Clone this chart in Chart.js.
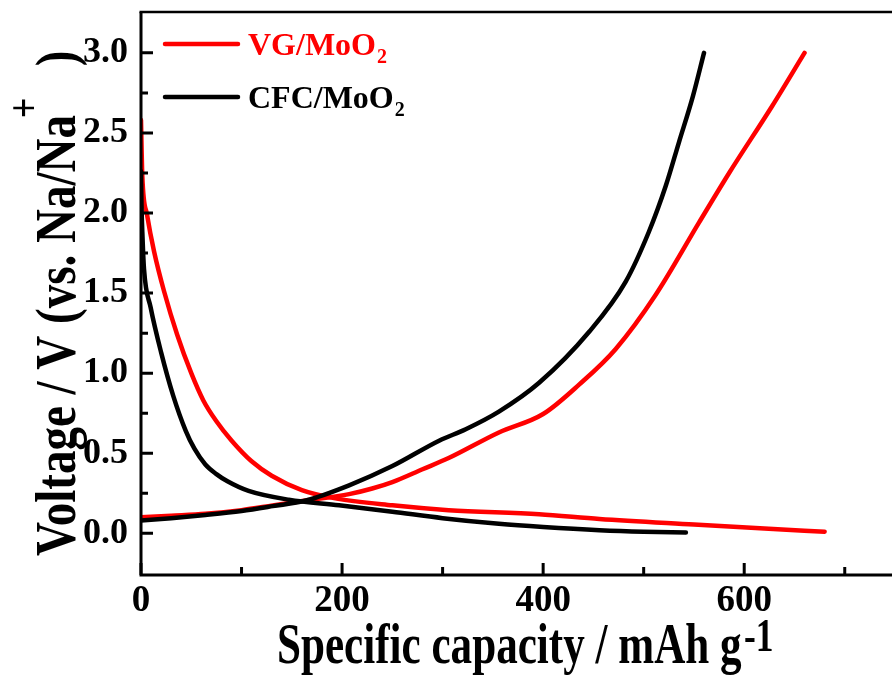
<!DOCTYPE html>
<html>
<head>
<meta charset="utf-8">
<script src="https://cdn.jsdelivr.net/npm/chart.js@4.4.1/dist/chart.umd.min.js"></script>
<style>
html,body{margin:0;padding:0;background:#fff;}
#wrap{width:892px;height:679px;position:relative;}
</style>
</head>
<body>
<div id="wrap"><canvas id="c" width="892" height="679"></canvas></div>
<script>
// ---- data ----
const seriesNames = ['VG/MoO2', 'CFC/MoO2'];
const seriesColors = ['#ff0000', '#000000'];

const vgDischargeCap = [0, 1.3, 6, 13, 23, 36, 50, 62, 75, 90, 110, 130, 160, 192, 250, 306, 396, 456, 550, 620, 680];
const vgDischargeV   = [2.58, 2.23, 1.99, 1.76, 1.51, 1.24, 1.0, 0.83, 0.70, 0.58, 0.45, 0.36, 0.27, 0.22, 0.175, 0.145, 0.12, 0.09, 0.055, 0.03, 0.01];

const vgChargeCap = [0, 30, 64, 100, 131, 164, 207, 230, 250, 280, 306, 356, 400, 436, 472, 512, 555, 585, 628, 660];
const vgChargeV   = [0.10, 0.11, 0.122, 0.145, 0.174, 0.205, 0.245, 0.28, 0.32, 0.40, 0.47, 0.63, 0.745, 0.93, 1.15, 1.49, 1.94, 2.25, 2.67, 3.0];

const cfcDischargeCap = [0, 0.5, 1.5, 3, 9.6, 20, 32, 44.5, 53, 64, 75, 86, 107, 147, 197, 250, 300, 356, 400, 456, 500, 542];
const cfcDischargeV   = [2.26, 2.05, 1.85, 1.65, 1.41, 1.13, 0.86, 0.64, 0.53, 0.43, 0.37, 0.325, 0.265, 0.21, 0.175, 0.135, 0.095, 0.06, 0.04, 0.02, 0.01, 0.005];

const cfcChargeCap = [0, 30, 64, 100, 131, 164, 207, 250, 297, 323, 356, 396, 446, 482, 505, 522, 535, 549, 560];
const cfcChargeV   = [0.08, 0.095, 0.115, 0.14, 0.17, 0.205, 0.30, 0.42, 0.58, 0.65, 0.76, 0.94, 1.26, 1.57, 1.88, 2.17, 2.44, 2.73, 3.0];

const xTickValues = [0, 200, 400, 600];
const xMinorTickValues = [100, 300, 500, 700];
const yTickValues = [0, 0.5, 1.0, 1.5, 2.0, 2.5, 3.0];
const yMinorTickValues = [0.25, 0.75, 1.25, 1.75, 2.25, 2.75];

const xTitle = 'Specific capacity / mAh g';
const xTitleSup = '-1';
const yTitle = 'Voltage / V (vs. Na/Na';
const yTitleSup = '+';
const yTitleEnd = ')';

// ---- build ----
const pts = (xs, ys) => xs.map((v, i) => ({x: v, y: ys[i]}));
const FONT = '"Liberation Serif", "Times New Roman", serif';

function ds(label, color, xs, ys) {
  return {
    label, data: pts(xs, ys), borderColor: color, backgroundColor: color,
    borderWidth: 4.5, pointRadius: 0, cubicInterpolationMode: 'monotone',
    borderCapStyle: 'round', borderJoinStyle: 'round', fill: false
  };
}

const datasets = [
  ds(seriesNames[1], seriesColors[1], cfcDischargeCap, cfcDischargeV),
  ds(seriesNames[1], seriesColors[1], cfcChargeCap, cfcChargeV),
  ds(seriesNames[0], seriesColors[0], vgDischargeCap, vgDischargeV),
  ds(seriesNames[0], seriesColors[0], vgChargeCap, vgChargeV)
];

function drawSubText(ctx, x, y, main, sub, size, color) {
  ctx.fillStyle = color;
  ctx.font = 'bold ' + size + 'px ' + FONT;
  ctx.textAlign = 'left'; ctx.textBaseline = 'alphabetic';
  const base = main.slice(0, -1);
  ctx.fillText(base, x, y);
  const w = ctx.measureText(base).width;
  ctx.font = 'bold ' + Math.round(size * 0.62) + 'px ' + FONT;
  ctx.fillText(sub, x + w + 1, y + 8);
}

const decor = {
  id: 'decor',
  afterDraw(chart) {
    const {ctx, chartArea: a, scales: {x, y}} = chart;
    ctx.save();
    ctx.strokeStyle = '#000';
    ctx.lineCap = 'butt';
    // axes lines
    ctx.lineWidth = 3;
    ctx.beginPath();
    ctx.moveTo(a.left, a.top); ctx.lineTo(a.left, a.bottom);
    ctx.moveTo(a.left - 1.5, a.bottom); ctx.lineTo(a.right, a.bottom);
    ctx.stroke();
    ctx.lineWidth = 2.5;
    ctx.beginPath();
    ctx.moveTo(a.left - 1.5, a.top); ctx.lineTo(a.right, a.top);
    ctx.stroke();
    // inward ticks
    ctx.lineWidth = 3;
    ctx.beginPath();
    xTickValues.forEach(v => { const p = x.getPixelForValue(v); ctx.moveTo(p, a.bottom); ctx.lineTo(p, a.bottom - 12); });
    xMinorTickValues.forEach(v => { const p = x.getPixelForValue(v); ctx.moveTo(p, a.bottom); ctx.lineTo(p, a.bottom - 8); });
    yTickValues.forEach(v => { const p = y.getPixelForValue(v); ctx.moveTo(a.left, p); ctx.lineTo(a.left + 12, p); });
    yMinorTickValues.forEach(v => { const p = y.getPixelForValue(v); ctx.moveTo(a.left, p); ctx.lineTo(a.left + 7, p); });
    ctx.stroke();

    // legend
    const legY = [44, 97];
    [0, 1].forEach(i => {
      ctx.strokeStyle = seriesColors[i];
      ctx.lineWidth = 4.5; ctx.lineCap = 'round';
      ctx.beginPath(); ctx.moveTo(165, legY[i]); ctx.lineTo(238, legY[i]); ctx.stroke();
      drawSubText(ctx, 248, legY[i] + 11, seriesNames[i], seriesNames[i].slice(-1), 32, seriesColors[i]);
    });

    // x title (condensed serif)
    ctx.fillStyle = '#000';
    ctx.textAlign = 'left'; ctx.textBaseline = 'alphabetic';
    ctx.save();
    ctx.translate(277, 663);
    ctx.scale(0.77, 1);
    ctx.font = 'bold 56px ' + FONT;
    ctx.fillText(xTitle, 0, 0);
    let w = ctx.measureText(xTitle).width;
    ctx.font = 'bold 46px ' + FONT;
    ctx.fillText(xTitleSup, w + 3, -12);
    ctx.restore();

    // y title
    ctx.save();
    ctx.translate(75, 556);
    ctx.rotate(-Math.PI / 2);
    ctx.scale(0.825, 1);
    ctx.font = 'bold 57px ' + FONT;
    ctx.fillText(yTitle, 0, 0);
    w = ctx.measureText(yTitle).width;
    ctx.font = 'bold 44px ' + FONT;
    ctx.fillText(yTitleSup, w - 4, -37);
    const w2 = ctx.measureText(yTitleSup).width;
    ctx.font = 'bold 57px ' + FONT;
    ctx.fillText(yTitleEnd, w + w2 + 34, 0);
    ctx.restore();

    ctx.restore();
  }
};

new Chart(document.getElementById('c'), {
  type: 'line',
  data: {datasets},
  options: {
    responsive: false,
    animation: false,
    devicePixelRatio: 1,
    layout: {padding: {top: 12, right: 0, left: 0, bottom: 0}},
    plugins: {legend: {display: false}, tooltip: {enabled: false}},
    scales: {
      x: {
        type: 'linear', min: 0, max: 747,
        grid: {display: false, drawTicks: false},
        border: {display: false},
        afterBuildTicks: s => { s.ticks = xTickValues.map(v => ({value: v})); },
        afterFit: s => { s.height = 104; s.paddingLeft = 0; s.paddingRight = 0; },
        ticks: {
          color: '#000', padding: 4, maxRotation: 0, autoSkip: false,
          font: {family: FONT, weight: 'bold', size: 37},
          callback: v => String(v)
        }
      },
      y: {
        type: 'linear', min: -0.26, max: 3.255,
        grid: {display: false, drawTicks: false},
        border: {display: false},
        afterBuildTicks: s => { s.ticks = yTickValues.map(v => ({value: v})); },
        afterFit: s => { s.width = 141; s.paddingTop = 0; s.paddingBottom = 0; },
        ticks: {
          color: '#000', padding: 13, autoSkip: false,
          font: {family: FONT, weight: 'bold', size: 36},
          callback: v => Number(v).toFixed(1)
        }
      }
    }
  },
  plugins: [decor]
});
</script>
</body>
</html>
